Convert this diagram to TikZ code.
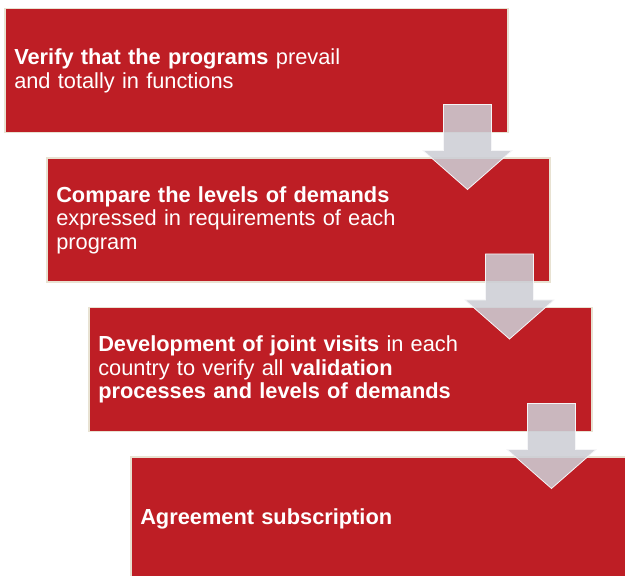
\documentclass[tikz,border=0pt]{standalone}
\usepackage{fontspec}
\setmainfont{Liberation Sans}
\usepackage{xcolor}
\definecolor{boxred}{RGB}{190,30,37}
\definecolor{boxrim}{RGB}{232,226,210}
\definecolor{arrowgray}{RGB}{204,206,213}
\usetikzlibrary{positioning}
\tikzset{
  stepbox/.style={draw=boxrim,line width=1.5pt,fill=boxred,text=white,
    minimum width=503pt,minimum height=124pt,text width=484pt,inner xsep=9.5pt,
    align=left,font=\fontsize{21.8}{23.5}\selectfont},
  pics/downarrow/.style={code={
    \filldraw[fill=arrowgray,draw=white!80!arrowgray,line width=0.8pt,fill opacity=0.87]
      (-24,0)--(24,0)--(24,-46)--(44.5,-46)--(0,-85)--(-44.5,-46)--(-24,-46)--cycle;}}
}
\begin{document}
\begin{tikzpicture}[x=1pt,y=1pt]
  \useasboundingbox (0,0) rectangle (625,576);
  \clip (0,0) rectangle (625,576);
  \node[stepbox,anchor=north west] (verify) at (4,568)
    {\textbf{Verify that the programs} prevail\\and totally in functions};
  \node[stepbox,below=24pt of verify,xshift=42pt] (compare)
    {\textbf{Compare the levels of demands}\\expressed in requirements of each\\program};
  \node[stepbox,below=24pt of compare,xshift=42pt] (visits)
    {\textbf{Development of joint visits} in each\\country to verify all \textbf{validation}\\\textbf{processes and levels of demands}};
  \node[stepbox,below=24pt of visits,xshift=42pt] (subscription)
    {\textbf{Agreement subscription}};
  \foreach \b in {verify,compare,visits}
    \pic at ([xshift=-41pt,yshift=29pt]\b.south east) {downarrow};
\end{tikzpicture}
\end{document}
